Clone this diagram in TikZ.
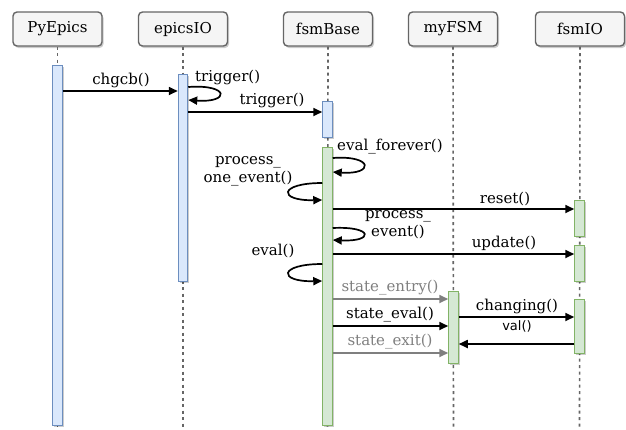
\documentclass[tikz,border=0pt]{standalone}
\usepackage{fontspec}
\setmainfont{DejaVu Serif}
\newfontfamily\labelsans{DejaVu Sans}
\usetikzlibrary{arrows.meta,shadows}
\definecolor{hdrfill}{HTML}{F5F5F5}
\definecolor{hdrline}{HTML}{666666}
\definecolor{bluefill}{HTML}{DAE8FC}
\definecolor{blueline}{HTML}{6C8EBF}
\definecolor{greenfill}{HTML}{D5E8D4}
\definecolor{greenline}{HTML}{82B366}
\definecolor{msggray}{HTML}{7F7F7F}
\tikzset{
  softshadow/.style={drop shadow={shadow xshift=1.5pt,shadow yshift=-2pt,fill=black,opacity=0.2}},
  hdr/.style={draw=hdrline,fill=hdrfill,line width=1.4pt,rounded corners=4pt,
    minimum width=89pt,minimum height=34pt,inner sep=0pt,font=\fontsize{15}{18}\selectfont,softshadow},
  lifeline/.style={draw=hdrline,line width=1.6pt,dash pattern=on 3pt off 3.5pt},
  bluebar/.style={draw=blueline,fill=bluefill,line width=1pt,minimum width=9.5pt,inner sep=0pt,softshadow},
  greenbar/.style={draw=greenline,fill=greenfill,line width=1pt,minimum width=9.5pt,inner sep=0pt,softshadow},
  msg/.style={line width=1.7pt,-{Triangle[length=9pt,width=8pt]}},
  greymsg/.style={msg,draw=msggray,-{Triangle[length=9pt,width=8pt,fill=msggray]}},
  lbl/.style={font=\fontsize{15}{18}\selectfont,inner sep=0pt,align=center},
  greylbl/.style={lbl,text=msggray},
}
\begin{document}
\begin{tikzpicture}[x=1pt,y=-1pt]
\useasboundingbox (0,0) rectangle (626,429);

% participants
\node[hdr] (pyepics) at (57.5,29) {PyEpics};
\node[hdr] (epicsio) at (183,29) {epicsIO};
\node[hdr] (fsmbase) at (328,29) {fsmBase};
\node[hdr] (myfsm)   at (453,29) {myFSM};
\node[hdr] (fsmio)   at (580,29) {fsmIO};

% lifelines
\coordinate (pyend)   at (57.5,429);
\coordinate (eioend)  at (183,429);
\coordinate (baseend) at (327.5,429);
\coordinate (myend)   at (453.5,429);
\coordinate (fioend)  at (579.5,429);
\draw[lifeline] (pyepics.south) -- (pyend);
\draw[lifeline] (epicsio.south) -- (eioend);
\draw[lifeline] (fsmbase.south) -- (baseend);
\draw[lifeline] (myfsm.south) -- (myend);
\draw[lifeline] (fsmio.south) -- (fioend);

% activations
\node[bluebar,minimum height=360pt] (pybar) at (57.5,245) {};
\node[bluebar,minimum height=207pt] (eiobar) at (183,177.5) {};
\node[bluebar,minimum height=36pt] (trigbar) at (327.5,119) {};
\node[greenbar,minimum height=278pt] (basebar) at (327.5,286) {};
\node[greenbar,minimum height=36pt] (resetbar) at (579.5,218) {};
\node[greenbar,minimum height=36pt] (updbar) at (579.5,263) {};
\node[greenbar,minimum height=54pt] (chgbar) at (579.5,326) {};
\node[greenbar,minimum height=72pt] (mybar) at (453.5,327) {};

% PyEpics -> epicsIO
\draw[msg] (pybar.east |- 0,91) -- (eiobar.west |- 0,91);
\node[lbl] (chgcb) at (121,80) {chgcb()};

% epicsIO self trigger
\draw[msg] (eiobar.east |- 0,87) .. controls (230,84) and (230,103) .. (eiobar.east |- 0,100);
\node[lbl,anchor=west] (trigself) at (195,77) {trigger()};

% epicsIO -> fsmBase
\draw[msg] (eiobar.east |- 0,112) -- (trigbar.west |- 0,112);
\node[lbl] (trigmsg) at (272,100) {trigger()};

% eval_forever loop
\draw[msg] (basebar.east |- 0,158) .. controls (374,155) and (374,175) .. (basebar.east |- 0,172);
\node[lbl,anchor=west] (evalforever) at (337,147) {eval\_forever()};

% process_one_event loop
\draw[msg] (basebar.west |- 0,183) .. controls (278,183) and (278,201) .. (basebar.west |- 0,200);
\node[lbl] (poe) at (248,171) {process\_\\one\_event()};

% reset
\draw[msg] (basebar.east |- 0,209) -- (resetbar.west |- 0,209);
\node[lbl] (reset) at (505,199) {reset()};

% process_event loop
\draw[msg] (basebar.east |- 0,228) .. controls (374,226) and (374,242) .. (basebar.east |- 0,240);
\node[lbl] (pe) at (398,225) {process\_\\event()};

% update
\draw[msg] (basebar.east |- 0,254) -- (updbar.west |- 0,254);
\node[lbl] (update) at (504,243) {update()};

% eval loop
\draw[msg] (basebar.west |- 0,264) .. controls (278,264) and (278,282) .. (basebar.west |- 0,281);
\node[lbl] (eval) at (273,251) {eval()};

% state calls
\draw[greymsg] (basebar.east |- 0,299) -- (mybar.west |- 0,299);
\node[greylbl] (sentry) at (390,288) {state\_entry()};
\draw[msg] (basebar.east |- 0,326) -- (mybar.west |- 0,326);
\node[lbl] (seval) at (390,315) {state\_eval()};
\draw[greymsg] (basebar.east |- 0,353) -- (mybar.west |- 0,353);
\node[greylbl] (sexit) at (390,342) {state\_exit()};

% changing / val
\draw[msg] (mybar.east |- 0,317) -- (chgbar.west |- 0,317);
\node[lbl] (changing) at (517,306) {changing()};
\draw[msg] (chgbar.west |- 0,344) -- (mybar.east |- 0,344);
\node[lbl,font=\labelsans\fontsize{13}{15}\selectfont] (val) at (517,326) {val()};
\end{tikzpicture}
\end{document}
